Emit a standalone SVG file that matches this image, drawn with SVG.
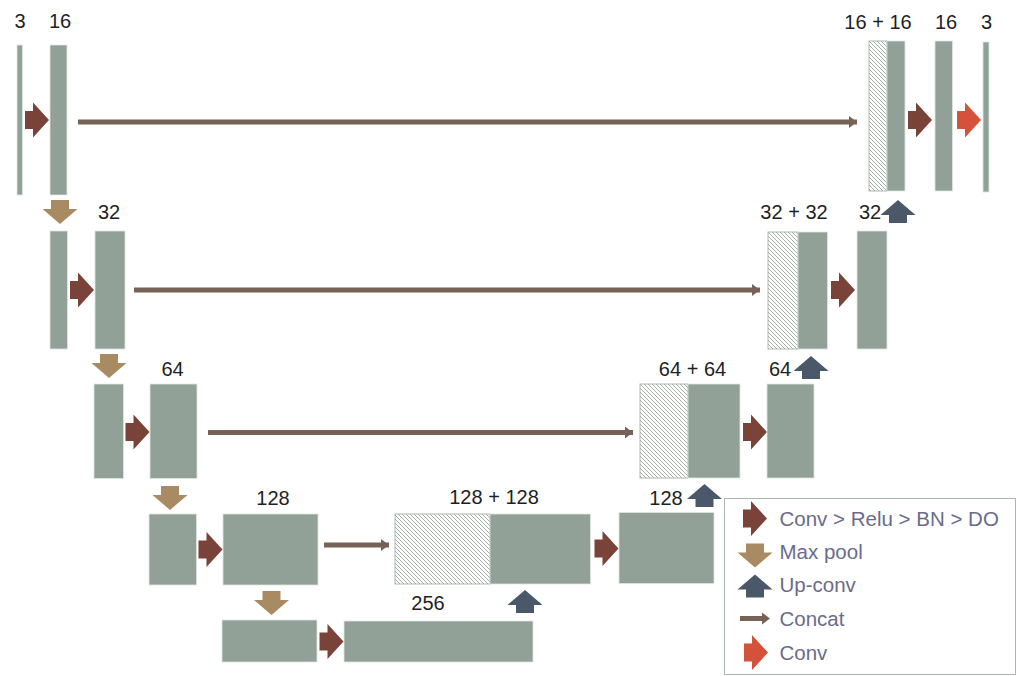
<svg xmlns="http://www.w3.org/2000/svg" width="1017" height="676" viewBox="0 0 1017 676">
<style>
.bar{fill:#91a197;stroke:#dfe5e1;stroke-width:0.8}
.hat{fill:url(#hatch);stroke:#9aa99f;stroke-width:0.8}
.lbl{font-family:"Liberation Sans",Arial,sans-serif;font-size:20px;fill:#1e1e24;text-anchor:middle}
.leg{font-family:"Liberation Sans",Arial,sans-serif;font-size:20.5px;fill:#6b6b8a}
.conv{fill:#7a4339}
.pool{fill:#a88b62}
.up{fill:#4a5869}
.out{fill:#d4513a}
.cat{stroke:#766257;stroke-width:5;fill:none;marker-end:url(#ah)}
</style>
<defs>
<pattern id="hatch" patternUnits="userSpaceOnUse" width="4" height="4">
<rect width="4" height="4" fill="#ffffff"/>
<path d="M0,0 L4,4 M-1,3 L1,5 M3,-1 L5,1" stroke="#8a9a90" stroke-width="0.8"/>
</pattern>
<marker id="ah" markerUnits="userSpaceOnUse" markerWidth="10" markerHeight="14" refX="8" refY="6" orient="auto">
<path d="M0,0 L8,6 L0,12 Z" fill="#766257"/>
</marker>
<path id="ra" d="M0,-9 H8 V-17.5 L24,0 L8,17.5 V9 H0 Z"/>
<path id="da" d="M-9,0 H9 V9 H17.5 L0,24 L-17.5,9 H-9 Z"/>
<path id="ua" d="M-9,23 V15 H-17.5 L0,0 L17.5,15 H9 V23 Z"/>
</defs>
<rect width="1017" height="676" fill="#ffffff"/>

<g id="connectors">
<path class="cat" d="M78,122 H857"/>
<path class="cat" d="M134,290 H760"/>
<path class="cat" d="M208,432.5 H633"/>
<path class="cat" d="M324,545 H389"/>
</g>

<g id="enc1">
<rect class="bar" x="17" y="45" width="5.5" height="150"/>
<rect class="bar" x="50" y="45" width="17" height="150"/>
<text class="lbl" x="20" y="28">3</text>
<text class="lbl" x="60" y="28">16</text>
<use href="#ra" class="conv" x="25" y="120"/>
<use href="#da" class="pool" x="60" y="200"/>
</g>
<g id="enc2">
<rect class="bar" x="50" y="231" width="17.5" height="118"/>
<rect class="bar" x="95" y="231" width="30" height="118"/>
<text class="lbl" x="109" y="219">32</text>
<use href="#ra" class="conv" x="70" y="290"/>
<use href="#da" class="pool" x="109" y="354"/>
</g>
<g id="enc3">
<rect class="bar" x="94" y="384" width="29.5" height="94.5"/>
<rect class="bar" x="150" y="384" width="47" height="94.5"/>
<text class="lbl" x="172.5" y="376">64</text>
<use href="#ra" class="conv" x="125.5" y="432"/>
<use href="#da" class="pool" x="170" y="486"/>
</g>
<g id="enc4">
<rect class="bar" x="149" y="514" width="47.5" height="71"/>
<rect class="bar" x="223" y="514" width="95" height="71"/>
<text class="lbl" x="273" y="505">128</text>
<use href="#ra" class="conv" x="198.5" y="549.5"/>
<use href="#da" class="pool" x="271.5" y="591"/>
</g>
<g id="bottleneck">
<rect class="bar" x="222" y="620" width="95" height="42"/>
<rect class="bar" x="344" y="621" width="189" height="41"/>
<text class="lbl" x="428" y="609.5">256</text>
<use href="#ra" class="conv" x="319.5" y="641.5"/>
<use href="#ua" class="up" x="525" y="590"/>
</g>
<g id="dec4">
<rect class="hat" x="395" y="514" width="95" height="70"/>
<rect class="bar" x="490" y="514" width="100.5" height="70"/>
<text class="lbl" x="494" y="503.5">128 + 128</text>
<use href="#ra" class="conv" x="594.5" y="548.5"/>
<rect class="bar" x="619" y="512.5" width="95" height="71"/>
<text class="lbl" x="666" y="505">128</text>
<use href="#ua" class="up" x="704.5" y="484"/>
</g>
<g id="dec3">
<rect class="hat" x="640" y="384" width="48" height="94"/>
<rect class="bar" x="688" y="384" width="52" height="94"/>
<text class="lbl" x="692.5" y="376">64 + 64</text>
<use href="#ra" class="conv" x="743" y="432"/>
<rect class="bar" x="767" y="384" width="47" height="94"/>
<text class="lbl" x="780" y="376">64</text>
<use href="#ua" class="up" x="811" y="356"/>
</g>
<g id="dec2">
<rect class="hat" x="768" y="232" width="30" height="117"/>
<rect class="bar" x="798" y="232" width="29.5" height="117"/>
<text class="lbl" x="794" y="218.5">32 + 32</text>
<use href="#ra" class="conv" x="831" y="290"/>
<rect class="bar" x="857" y="231" width="30" height="118"/>
<text class="lbl" x="870" y="218.5">32</text>
<use href="#ua" class="up" x="898" y="200"/>
</g>
<g id="dec1">
<rect class="hat" x="869" y="41" width="18" height="150"/>
<rect class="bar" x="887" y="41" width="18" height="150"/>
<text class="lbl" x="878" y="28.5">16 + 16</text>
<use href="#ra" class="conv" x="908" y="120"/>
<rect class="bar" x="935" y="41" width="17.5" height="150"/>
<text class="lbl" x="946" y="28.5">16</text>
<use href="#ra" class="out" x="957" y="120"/>
<rect class="bar" x="983" y="42" width="6" height="150"/>
<text class="lbl" x="986.5" y="28.5">3</text>
</g>

<g id="legend">
<rect x="724.5" y="498.5" width="291" height="176" fill="#ffffff" stroke="#aab8b0" stroke-width="1"/>
<use href="#ra" class="conv" x="743" y="518.5"/>
<text class="leg" x="779.5" y="525.5">Conv &gt; Relu &gt; BN &gt; DO</text>
<use href="#da" class="pool" x="755" y="543.5"/>
<text class="leg" x="779.5" y="558.5">Max pool</text>
<use href="#ua" class="up" x="755" y="574.5"/>
<text class="leg" x="779.5" y="592">Up-conv</text>
<path d="M740,618.5 H762" stroke="#766257" stroke-width="5"/>
<path d="M762,612.5 L770,618.5 L762,624.5 Z" fill="#766257"/>
<text class="leg" x="779.5" y="625.5">Concat</text>
<use href="#ra" class="out" x="744" y="652.5"/>
<text class="leg" x="779.5" y="659.5">Conv</text>
</g>
</svg>
